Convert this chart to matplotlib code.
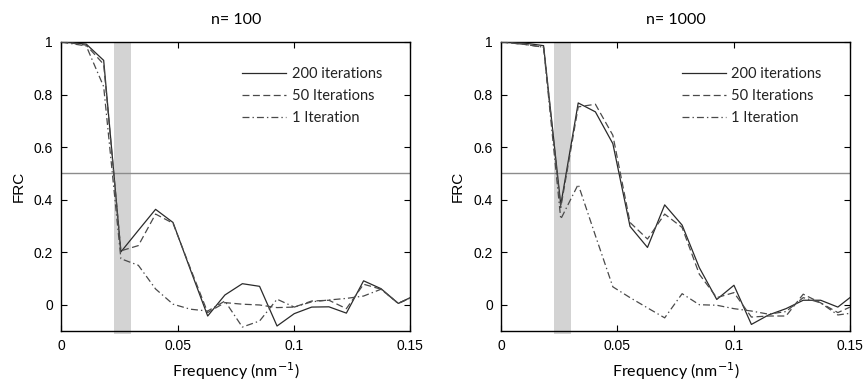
import matplotlib
matplotlib.use("Agg")
import matplotlib.pyplot as plt
from matplotlib.ticker import FixedLocator, FuncFormatter

plt.rcParams['lines.scale_dashes'] = False

freq = [0, 0.0033, 0.0107, 0.0182, 0.0256, 0.0331, 0.0405, 0.0480, 0.0554, 0.0629,
        0.0703, 0.0778, 0.0852, 0.0927, 0.1001, 0.1076, 0.1150, 0.1225, 0.1299,
        0.1374, 0.1448, 0.1523]

solid_100 = [1.0, 0.998, 0.992, 0.930, 0.201, 0.283, 0.363, 0.313, 0.135, -0.043,
             0.037, 0.080, 0.070, -0.081, -0.034, -0.009, -0.008, -0.032, 0.091,
             0.061, 0.005, 0.037]
dashed_100 = [1.0, 0.997, 0.988, 0.915, 0.205, 0.225, 0.345, 0.310, 0.140, -0.030,
              0.008, 0.002, -0.001, -0.011, -0.009, 0.014, 0.017, -0.015, 0.078,
              0.059, 0.005, 0.035]
dashdot_100 = [1.0, 0.995, 0.985, 0.830, 0.175, 0.150, 0.060, 0.002, -0.017, -0.024,
               0.014, -0.085, -0.062, 0.021, -0.009, 0.011, 0.018, 0.024, 0.033,
               0.059, 0.005, 0.035]

solid_1000 = [1.0, 0.998, 0.995, 0.986, 0.380, 0.768, 0.734, 0.613, 0.298, 0.218,
              0.380, 0.303, 0.141, 0.020, 0.074, -0.075, -0.039, -0.015, 0.017,
              0.017, -0.009, 0.043]
dashed_1000 = [1.0, 0.997, 0.990, 0.980, 0.370, 0.753, 0.763, 0.645, 0.313, 0.250,
               0.345, 0.294, 0.116, 0.027, 0.046, -0.047, -0.043, -0.043, 0.040,
               0.007, -0.030, 0.000]
dashdot_1000 = [1.0, 0.997, 0.990, 0.980, 0.326, 0.458, 0.263, 0.068, 0.027, -0.012,
                -0.050, 0.042, 0.000, -0.002, -0.015, -0.024, -0.036, -0.026, 0.027,
                0.007, -0.039, -0.030]

titles = ["n= 100", "n= 1000"]
labels = ["200 iterations", "50 Iterations", "1 Iteration"]
band = (0.0225, 0.030)
threshold = 0.5
xticks = [0, 0.05, 0.1, 0.15]
yticks = [0, 0.2, 0.4, 0.6, 0.8, 1]

fig = plt.figure(figsize=(8.65, 3.83), dpi=100)
positions = [[0.0709, 0.1358, 0.4035, 0.7546], [0.5795, 0.1358, 0.4031, 0.7546]]
series = [(solid_100, dashed_100, dashdot_100), (solid_1000, dashed_1000, dashdot_1000)]

tfont = dict(family=['Lato', 'DejaVu Sans'])
numfont = 'Liberation Sans'

def fmt(v, pos):
    s = ('%.2f' % v).rstrip('0').rstrip('.')
    return s

for i in range(2):
    ax = fig.add_axes(positions[i])
    s, d, dd = series[i]
    ax.axvspan(band[0], band[1], ymin=-0.012, ymax=1.0, color='#d3d3d3', lw=0,
               clip_on=False, zorder=0)
    ax.axhline(threshold, color='#8c8c8c', lw=1.0, zorder=1)
    ax.plot(freq, s, color='#2a2a2a', lw=0.9, ls='-', label=labels[0], zorder=3)
    ax.plot(freq, d, color='#4a4a4a', lw=0.9, ls=(0, (5, 2.5)), label=labels[1], zorder=3)
    ax.plot(freq, dd, color='#4a4a4a', lw=0.9, ls=(0, (5, 2.2, 1, 2.2)), label=labels[2], zorder=3)
    ax.set_xlim(0, 0.15)
    ax.set_ylim(-0.1, 1.0)
    ax.xaxis.set_major_locator(FixedLocator(xticks))
    ax.yaxis.set_major_locator(FixedLocator(yticks))
    ax.xaxis.set_major_formatter(FuncFormatter(fmt))
    ax.yaxis.set_major_formatter(FuncFormatter(fmt))
    ax.tick_params(direction='in', top=True, right=True, length=4, width=0.8,
                   labelsize=10, pad=6)
    for lab in ax.get_xticklabels() + ax.get_yticklabels():
        lab.set_fontfamily(numfont)
    for sp in ax.spines.values():
        sp.set_linewidth(1.0)
    ax.set_title(titles[i], fontsize=11.5, pad=13, **tfont)
    ax.set_xlabel('Frequency (nm$^{-1}$)', fontsize=11.5, labelpad=5, **tfont)
    ax.set_ylabel('FRC', fontsize=11, labelpad=6, family=numfont)
    leg = ax.legend(loc='upper left', bbox_to_anchor=(0.48, 0.96), frameon=False,
                    prop=dict(family=['Lato', 'DejaVu Sans'], size=10.5),
                    handlelength=3.0, handletextpad=0.4, labelspacing=0.55)
    for t in leg.get_texts():
        t.set_color('#222222')

fig.savefig('out.png', dpi=100)
